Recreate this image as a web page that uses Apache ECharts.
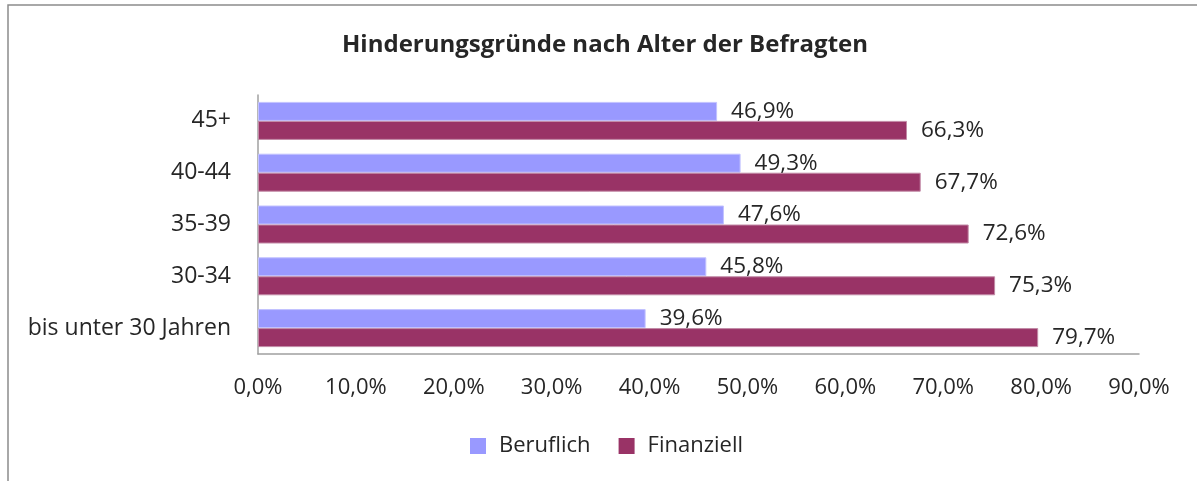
<!DOCTYPE html>
<html>
<head>
<meta charset="utf-8">
<title>Hinderungsgründe nach Alter der Befragten</title>
<script src="https://cdn.jsdelivr.net/npm/echarts@6/dist/echarts.min.js"></script>
<style>
  html, body { margin: 0; padding: 0; background: #ffffff; }
  #chart { width: 1197px; height: 481px; }
</style>
</head>
<body>
<div id="chart"></div>
<script>
// Age groups, listed bottom to top as the category axis draws them
const ageGroups = ['bis unter 30 Jahren', '30-34', '35-39', '40-44', '45+'];
// Share of respondents naming each obstacle (percent)
const beruflich = [39.6, 45.8, 47.6, 49.3, 46.9];
const finanziell = [79.7, 75.3, 72.6, 67.7, 66.3];
const seriesNames = ['Beruflich', 'Finanziell'];
// Value axis range and step (percent)
const axisMin = 0;
const axisMax = 90;
const axisStep = 10;

const FONT = '"Open Sans", "Liberation Sans", sans-serif';
const TEXT = '#262626';

const pct = v => v.toFixed(1).replace('.', ',') + '%';

const chart = echarts.init(document.getElementById('chart'), null, { renderer: 'canvas' });

const labelStyle = {
  show: true,
  position: 'right',
  distance: 14,
  fontFamily: FONT,
  fontSize: 22.5,
  color: TEXT,
  formatter: p => pct(p.value)
};

chart.setOption({
  animation: false,
  backgroundColor: '#ffffff',
  textStyle: { fontFamily: FONT },
  graphic: [{
    type: 'rect',
    silent: true,
    shape: { x: 8, y: 5, width: 1210, height: 500 },
    style: { fill: 'none', stroke: '#8c8c8c', lineWidth: 1.5 }
  }],
  title: {
    text: 'Hinderungsgründe nach Alter der Befragten',
    left: 605,
    textAlign: 'center',
    top: 33,
    padding: 0,
    textStyle: {
      fontFamily: FONT,
      fontSize: 24,
      fontWeight: 'bold',
      color: TEXT
    }
  },
  legend: {
    data: seriesNames,
    left: 470,
    top: 435,
    padding: 0,
    itemWidth: 16,
    itemHeight: 16,
    itemGap: 28,
    icon: 'rect',
    itemStyle: { borderWidth: 0 },
    textStyle: {
      fontFamily: FONT,
      fontSize: 22,
      color: TEXT,
      padding: [0, 0, 0, 8]
    }
  },
  grid: {
    left: 258,
    right: 58,
    top: 95,
    bottom: 127,
    containLabel: false
  },
  xAxis: {
    type: 'value',
    min: axisMin,
    max: axisMax,
    interval: axisStep,
    axisLine: { show: true, lineStyle: { color: '#a0a0a0', width: 1.5 } },
    axisTick: { show: false },
    splitLine: { show: false },
    axisLabel: {
      margin: 23,
      fontFamily: FONT,
      fontSize: 22,
      color: TEXT,
      formatter: v => pct(v)
    }
  },
  yAxis: {
    type: 'category',
    data: ageGroups,
    axisLine: { show: true, lineStyle: { color: '#a0a0a0', width: 1.5 } },
    axisTick: { show: false },
    axisLabel: {
      margin: 27,
      fontFamily: FONT,
      fontSize: 23,
      color: TEXT
    }
  },
  series: [
    {
      name: seriesNames[0],
      type: 'bar',
      data: beruflich,
      barWidth: 19,
      barGap: '0%',
      itemStyle: { color: '#9999ff', borderColor: '#c2c2ff', borderWidth: 1 },
      label: labelStyle
    },
    {
      name: seriesNames[1],
      type: 'bar',
      data: finanziell,
      barWidth: 19,
      barGap: '0%',
      itemStyle: { color: '#993366', borderColor: '#c28aa6', borderWidth: 1 },
      label: labelStyle
    }
  ]
});
</script>
</body>
</html>
